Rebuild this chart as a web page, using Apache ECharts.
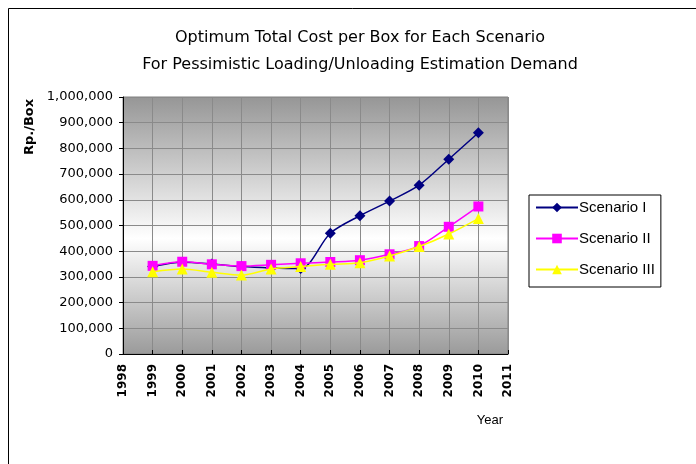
<!DOCTYPE html>
<html>
<head>
<meta charset="utf-8">
<script src="https://cdn.jsdelivr.net/npm/echarts@6/dist/echarts.min.js"></script>
<style>
  html, body { margin: 0; padding: 0; background: #fff; }
  #chart { width: 696px; height: 464px; }
</style>
</head>
<body>
<div id="chart"></div>
<script>
// years on the axis (1998 and 2011 are empty ends)
const years = ['1998', '1999', '2000', '2001', '2002', '2003', '2004', '2005', '2006', '2007', '2008', '2009', '2010', '2011'];
const scenario1 = [null, 340000, 357000, 350000, 340000, 335000, 333000, 470000, 538000, 595000, 657000, 758000, 861000, null];
const scenario2 = [null, 343000, 359000, 349000, 342000, 347000, 353000, 358000, 365000, 388000, 420000, 495000, 574000, null];
const scenario3 = [null, 320000, 331000, 318000, 307000, 331000, 340000, 349000, 355000, 381000, 418000, 467000, 527000, null];
const seriesNames = ['Scenario I', 'Scenario II', 'Scenario III'];

const myChart = echarts.init(document.getElementById('chart'));

const titleFont = '"Comic Sans MS", "DejaVu Sans", sans-serif';

myChart.setOption({
  backgroundColor: '#fff',
  animation: false,
  title: {
    text: 'Optimum Total Cost per Box for Each Scenario\nFor Pessimistic Loading/Unloading Estimation Demand',
    left: 355,
    textAlign: 'center',
    top: 19,
    textStyle: {
      fontFamily: titleFont,
      fontSize: 16,
      fontWeight: 'normal',
      color: '#000',
      lineHeight: 27
    }
  },
  legend: {
    orient: 'vertical',
    left: 529,
    top: 195,
    padding: [5, 6, 10, 6],
    itemGap: 16,
    itemWidth: 42,
    itemHeight: 12,
    borderColor: '#000',
    borderWidth: 1,
    textStyle: { fontFamily: 'Liberation Sans, Arial, sans-serif', fontSize: 15, color: '#000', padding: [0, 0, 0, -4] },
    data: seriesNames
  },
  grid: {
    left: 123,
    right: 188,
    top: 97,
    bottom: 110,
    show: true,
    borderColor: '#808080',
    borderWidth: 1,
    backgroundColor: {
      type: 'linear', x: 0, y: 0, x2: 0, y2: 1,
      colorStops: [
        { offset: 0, color: '#969696' },
        { offset: 0.55, color: '#ffffff' },
        { offset: 1, color: '#9a9a9a' }
      ]
    }
  },
  xAxis: {
    type: 'category',
    data: years,
    boundaryGap: false,
    axisLine: { lineStyle: { color: '#000', width: 1 } },
    axisTick: { show: true, inside: true, length: 4, lineStyle: { color: '#000' } },
    axisLabel: {
      rotate: 90,
      interval: 0,
      margin: 10,
      fontFamily: 'DejaVu Sans, sans-serif',
      fontWeight: 'bold',
      fontSize: 12,
      color: '#000'
    },
    splitLine: { show: true, lineStyle: { color: '#8a8a8a', width: 1 } }
  },
  yAxis: {
    type: 'value',
    min: 0,
    max: 1000000,
    interval: 100000,
    axisLine: { show: true, lineStyle: { color: '#000', width: 1 } },
    axisTick: { show: true, length: 4, lineStyle: { color: '#000' } },
    axisLabel: {
      fontFamily: 'DejaVu Sans, sans-serif',
      fontSize: 13,
      color: '#000',
      margin: 10
    },
    splitLine: { show: true, lineStyle: { color: '#8a8a8a', width: 1 } }
  },
  graphic: [
    {
      type: 'rect',
      shape: { x: 8.5, y: 8.5, width: 720, height: 480 },
      style: { fill: 'none', stroke: '#000', lineWidth: 1 },
      silent: true,
      z: -1
    },
    {
      type: 'text',
      x: 30,
      y: 127,
      rotation: Math.PI / 2,
      style: {
        text: 'Rp./Box',
        font: 'bold 13px "DejaVu Sans", sans-serif',
        fill: '#000',
        textAlign: 'center',
        textVerticalAlign: 'middle'
      }
    },
    {
      type: 'text',
      x: 490,
      y: 420,
      style: {
        text: 'Year',
        font: '13px "Liberation Sans", Arial, sans-serif',
        fill: '#000',
        textAlign: 'center',
        textVerticalAlign: 'middle'
      }
    }
  ],
  series: [
    {
      name: seriesNames[0],
      type: 'line',
      data: scenario1,
      smooth: 0.3,
      symbol: 'diamond',
      symbolSize: 11,
      itemStyle: { color: '#000080' },
      lineStyle: { color: '#000080', width: 1.5 },
      z: 2
    },
    {
      name: seriesNames[1],
      type: 'line',
      data: scenario2,
      smooth: 0.3,
      symbol: 'rect',
      symbolSize: 10,
      itemStyle: { color: '#ff00ff' },
      lineStyle: { color: '#ff00ff', width: 1.5 },
      z: 3
    },
    {
      name: seriesNames[2],
      type: 'line',
      data: scenario3,
      smooth: 0.3,
      symbol: 'triangle',
      symbolSize: 11,
      itemStyle: { color: '#ffff00' },
      lineStyle: { color: '#ffff00', width: 1.5 },
      z: 4
    }
  ]
});

window.addEventListener('resize', function () {
  myChart.resize();
});
</script>
</body>
</html>
